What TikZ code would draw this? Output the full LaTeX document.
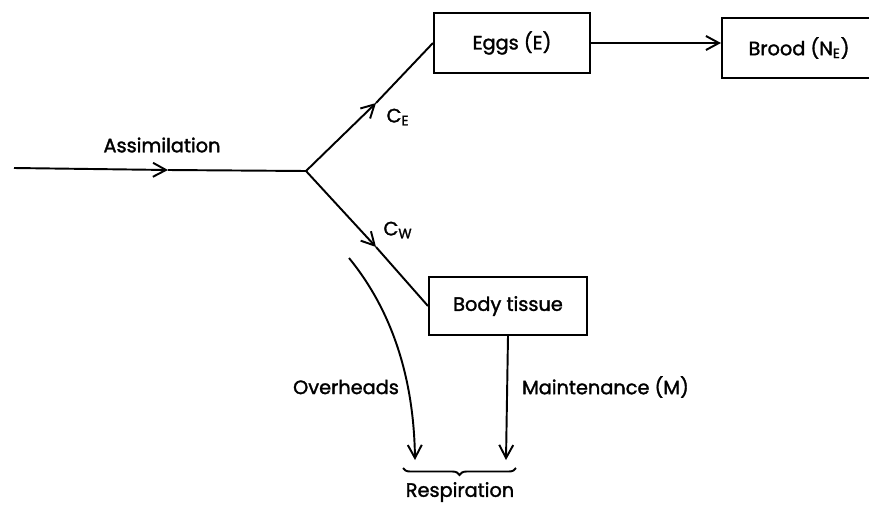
\documentclass[tikz,border=0pt]{standalone}
\usepackage{fontspec}
\setmainfont{Poppins}
\newfontfamily\diagfont{Poppins}[FakeBold=1.6]
\usetikzlibrary{decorations.pathreplacing,arrows.meta}

\tikzset{
  box/.style={draw,line width=1.2pt,minimum height=1.2cm,inner sep=0pt,font=\fontsize{11}{13}\diagfont},
  lbl/.style={inner sep=1pt,font=\fontsize{11}{13}\diagfont},
  ln/.style={line width=1.1pt},
  flow/.style={ln,->,>={Straight Barb[length=2.6mm,width=2.8mm]}},
}

\begin{document}
\begin{tikzpicture}[x=0.02cm,y=-0.02cm]
      \useasboundingbox (0,0) rectangle (869,504);
      \clip (0,0) rectangle (869,504);
      %boxes
      \node[box,minimum width=3.12cm] (eggs) at (512,43) {Eggs (E)};
      \node[box,minimum width=3.08cm] (brood) at (799,48) {Brood (N\textsubscript{E})};
      \node[box,minimum width=3.16cm,minimum height=1.16cm] (body) at (508,306) {Body tissue};
      \coordinate (in) at (14,168);
      \coordinate (fork) at (306,171);
      \coordinate (ain) at (168,170);
      \coordinate (ace) at (376,103);
      \coordinate (acw) at (376,247);
      \draw[flow] (in) -- (ain);
      \draw[ln] (ain) -- (fork);
      \draw[flow] (fork) -- (ace);
      \draw[ln] (ace) -- (eggs.west);
      \draw[flow] (fork) -- (acw);
      \draw[ln] (acw) -- (body.west);
      \draw[flow] (eggs.east) -- (eggs.east -| brood.west);
      %respiration
      \coordinate (ovs) at (349,258);
      \coordinate (ove) at (415,460);
      \coordinate (mte) at (506,460);
      \draw[flow] (ovs) .. controls (398,318) and (414,390) .. (ove);
      \draw[flow] (body.south) -- (mte);
      \draw[ln,decorate,decoration={brace,mirror,amplitude=4pt}] (403,468) -- (516,468);
      %labels
      \node[lbl] (asl) at (162,145) {Assimilation};
      \node[lbl] (cel) at (398,117) {C\textsubscript{E}};
      \node[lbl] (cwl) at (398,230) {C\textsubscript{W}};
      \node[lbl,anchor=east] (ovl) at (401,387) {Overheads};
      \node[lbl,anchor=west] (mtl) at (520,387) {Maintenance (M)};
      \node[lbl] (rsl) at (460,492) {Respiration};
    \end{tikzpicture}
\end{document}
